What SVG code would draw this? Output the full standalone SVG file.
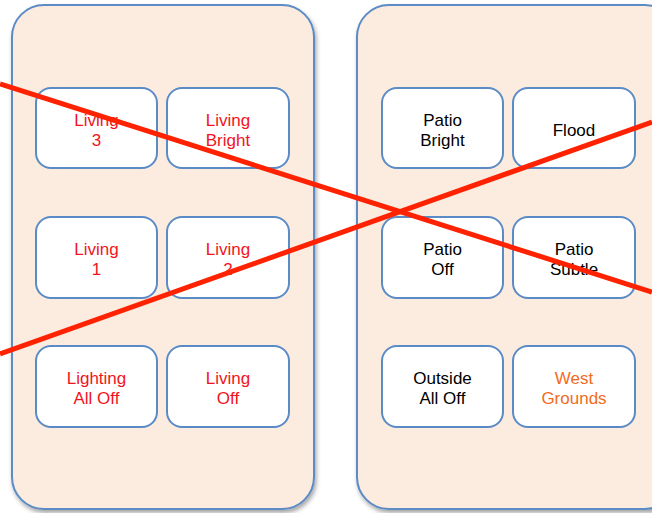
<svg xmlns="http://www.w3.org/2000/svg" width="652" height="513" viewBox="0 0 652 513">
<defs>
<filter id="sh" x="-10%" y="-10%" width="120%" height="120%">
<feDropShadow dx="1.5" dy="3" stdDeviation="2" flood-color="#000" flood-opacity="0.35"/>
</filter>
<style>
.panel{fill:#fcebdf;stroke:#5b8bc6;stroke-width:2;}
.btn{fill:#ffffff;stroke:#5b8bc6;stroke-width:2;}
text{font-family:"Liberation Sans",Arial,sans-serif;font-size:17px;text-anchor:middle;}
.r{fill:#f2141c;}
.k{fill:#000000;}
.o{fill:#f36b1c;}
.x{stroke:#ff2200;stroke-width:5;fill:none;}
</style>
</defs>
<rect width="652" height="513" fill="#ffffff"/>
<g id="panel-left">
<rect class="panel" x="12" y="5" width="302" height="504" rx="32" filter="url(#sh)"/>
</g>
<g id="panel-right">
<rect class="panel" x="357" y="5" width="320" height="504" rx="32" filter="url(#sh)"/>
</g>
<g id="btn-living3">
<rect class="btn" x="36" y="88" width="121" height="80" rx="15"/>
<text class="r" x="96.5" y="126">Living</text><text class="r" x="96.5" y="146">3</text>
</g>
<g id="btn-living-bright">
<rect class="btn" x="167" y="88" width="122" height="80" rx="15"/>
<text class="r" x="228" y="126">Living</text><text class="r" x="228" y="146">Bright</text>
</g>
<g id="btn-living1">
<rect class="btn" x="36" y="217" width="121" height="81" rx="15"/>
<text class="r" x="96.5" y="255">Living</text><text class="r" x="96.5" y="275">1</text>
</g>
<g id="btn-living2">
<rect class="btn" x="167" y="217" width="122" height="81" rx="15"/>
<text class="r" x="228" y="255">Living</text><text class="r" x="228" y="275">2</text>
</g>
<g id="btn-lighting-all-off">
<rect class="btn" x="36" y="346" width="121" height="81" rx="15"/>
<text class="r" x="96.5" y="384">Lighting</text><text class="r" x="96.5" y="404">All Off</text>
</g>
<g id="btn-living-off">
<rect class="btn" x="167" y="346" width="122" height="81" rx="15"/>
<text class="r" x="228" y="384">Living</text><text class="r" x="228" y="404">Off</text>
</g>
<g id="btn-patio-bright">
<rect class="btn" x="382" y="88" width="121" height="80" rx="15"/>
<text class="k" x="442.5" y="126">Patio</text><text class="k" x="442.5" y="146">Bright</text>
</g>
<g id="btn-flood">
<rect class="btn" x="513" y="88" width="122" height="80" rx="15"/>
<text class="k" x="574" y="136">Flood</text>
</g>
<g id="btn-patio-off">
<rect class="btn" x="382" y="217" width="121" height="81" rx="15"/>
<text class="k" x="442.5" y="255">Patio</text><text class="k" x="442.5" y="275">Off</text>
</g>
<g id="btn-patio-subtle">
<rect class="btn" x="513" y="217" width="122" height="81" rx="15"/>
<text class="k" x="574" y="255">Patio</text><text class="k" x="574" y="275">Subtle</text>
</g>
<g id="btn-outside-all-off">
<rect class="btn" x="382" y="346" width="121" height="81" rx="15"/>
<text class="k" x="442.5" y="384">Outside</text><text class="k" x="442.5" y="404">All Off</text>
</g>
<g id="btn-west-grounds">
<rect class="btn" x="513" y="346" width="122" height="81" rx="15"/>
<text class="o" x="574" y="384">West</text><text class="o" x="574" y="404">Grounds</text>
</g>
<g id="connectors">
<line class="x" x1="0" y1="84" x2="652" y2="292"/>
<line class="x" x1="0" y1="354" x2="652" y2="122"/>
</g>
</svg>
